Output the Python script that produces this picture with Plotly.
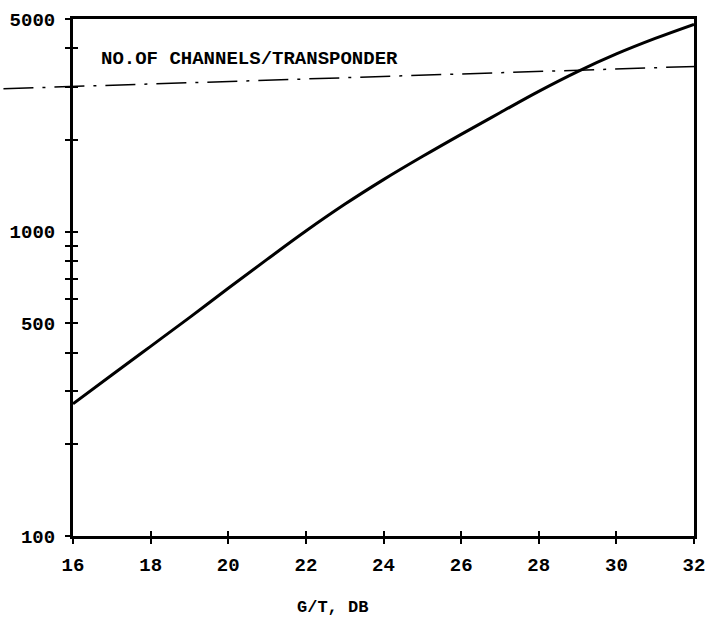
import math
import plotly.graph_objects as go

# data
gt_db = [16, 17, 18, 19, 20, 21, 22, 23, 24, 25, 26, 27, 28, 29, 30, 31, 32]
channels = [272, 338, 420, 522, 652, 811, 1005, 1230, 1483, 1766, 2089, 2460, 2891, 3357, 3837, 4315, 4800]

limit_level = [2950, 3500]   # dashed "channels/transponder" line, left and right ends

x_ticks = [16, 18, 20, 22, 24, 26, 28, 30, 32]
x_ticktext = ["16", "18", "20", "22", "24", "26", "28", "30", "32"]
y_ticks = [100, 200, 300, 400, 500, 600, 700, 800, 900, 1000, 2000, 3000, 4000, 5000]
y_ticktext = ["100", "", "", "", "500", "", "", "", "", "1000", "", "", "", "5000"]

FONT = "Liberation Mono"
W, H = 715, 618
ML, MR, MT, MB = 71, 10, 17, 82

fig = go.Figure()
fig.add_trace(go.Scatter(x=gt_db, y=channels, mode="lines",
                         line=dict(color="black", width=3, shape="spline", smoothing=1.0),
                         showlegend=False, hoverinfo="skip"))
# invisible twin so that the inner-tick overlay axes are drawn
fig.add_trace(go.Scatter(x=gt_db, y=channels, mode="lines", xaxis="x2", yaxis="y2",
                         line=dict(color="rgba(0,0,0,0)", width=0),
                         showlegend=False, hoverinfo="skip"))

yr = [math.log10(100), math.log10(5000)]
xr = [16, 32]

fig.update_layout(
    width=W, height=H,
    margin=dict(l=ML, r=MR, t=MT, b=MB),
    paper_bgcolor="white", plot_bgcolor="white",
    font=dict(family=FONT, size=19, color="black"),
    xaxis=dict(range=xr, tickvals=x_ticks, ticktext=x_ticktext, ticks="outside",
               ticklen=5, tickwidth=2, tickcolor="black", showgrid=False, zeroline=False,
               showline=True, linewidth=3, linecolor="black", mirror=True,
               tickfont=dict(family=FONT, size=19, color="black", weight="bold"),
               ticklabelstandoff=4),
    yaxis=dict(type="log", range=yr, tickvals=y_ticks, ticktext=y_ticktext, ticks="outside",
               ticklen=5, tickwidth=2, tickcolor="black", showgrid=False, zeroline=False,
               showline=True, linewidth=3, linecolor="black", mirror=True,
               tickfont=dict(family=FONT, size=19, color="black", weight="bold"),
               ticklabelstandoff=6),
    xaxis2=dict(overlaying="x", range=xr, tickvals=x_ticks, ticks="inside", ticklen=5,
                tickwidth=2, tickcolor="black", showticklabels=False, showgrid=False,
                zeroline=False, showline=False, side="bottom"),
    yaxis2=dict(overlaying="y", type="log", range=yr, tickvals=y_ticks, ticks="inside",
                ticklen=5, tickwidth=2, tickcolor="black", showticklabels=False,
                showgrid=False, zeroline=False, showline=False, side="left"),
)

# dashed reference line, running past both frame edges as in the original
fig.add_shape(type="line", xref="paper", yref="y",
              x0=-ML / (W - ML - MR), x1=1 + MR / (W - ML - MR),
              y0=limit_level[0], y1=limit_level[1],
              line=dict(color="black", width=1.5, dash="30px,9px,3px,9px"))

fig.add_annotation(text="NO.OF CHANNELS/TRANSPONDER", xref="paper", yref="paper",
                   x=0.042, y=0.923, xanchor="left", yanchor="middle", showarrow=False,
                   font=dict(family=FONT, size=19, color="black", weight="bold"))
fig.add_annotation(text="G/T, DB", xref="paper", yref="paper",
                   x=0.418, y=-(608 - (H - MB)) / (H - MT - MB), xanchor="center",
                   yanchor="middle", showarrow=False,
                   font=dict(family=FONT, size=17, color="black", weight="bold"))

fig.write_html("out.html")
